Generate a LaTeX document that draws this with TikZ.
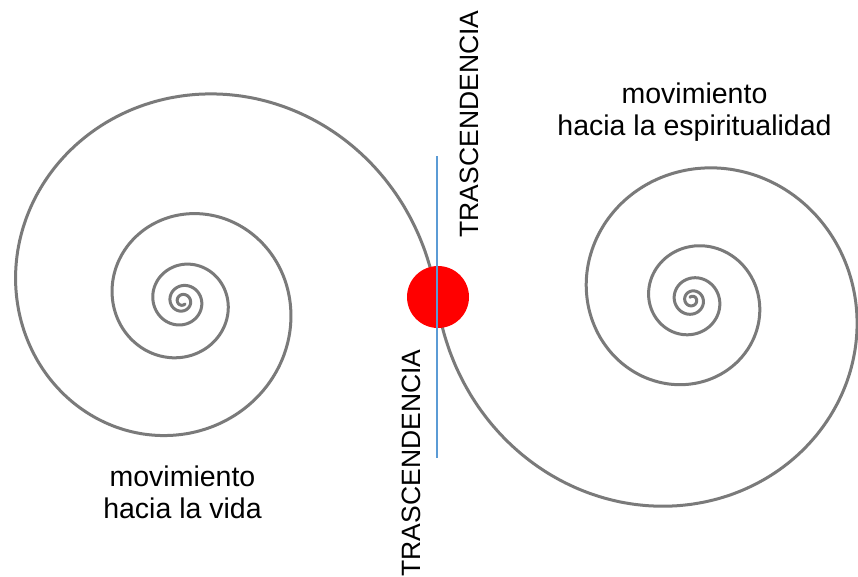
\documentclass[tikz,border=0pt]{standalone}
\usepackage{fontspec}
\setmainfont{Liberation Sans}
\definecolor{spiralgray}{HTML}{7A7A7A}
\definecolor{lineblue}{HTML}{5B9BD5}
\begin{document}
\begin{tikzpicture}[x=1pt,y=-1pt,
  spiralline/.style={draw=spiralgray,line width=3pt,line join=round,line cap=round},
  axisline/.style={draw=lineblue,line width=2.2pt},
  dotstyle/.style={circle,fill=red,minimum size=62pt,inner sep=0pt},
  caption/.style={font=\fontsize{28.5}{32}\selectfont,align=center,inner sep=0pt},
  vlabel/.style={font=\fontsize{26.5}{30}\selectfont,rotate=90,anchor=base,inner sep=0pt}]
\useasboundingbox[fill=white] (0,0) rectangle (858,576);
% spirals
\draw[spiralline] plot[smooth,samples=450,domain=0:1750,variable=\t]
  ({182.5+254.5*exp(-0.002397*\t)*cos(\t)},{301-254.5*exp(-0.002397*\t)*sin(\t)});
\draw[spiralline] plot[smooth,samples=450,domain=0:1750,variable=\t]
  ({692-255*exp(-0.002479*\t)*cos(\t)},{300+255*exp(-0.002479*\t)*sin(\t)});
% dot and line
\node[dotstyle] (dot) at (438,297) {};
\coordinate (ltop) at (437,156);
\coordinate (lbot) at (437,458);
\draw[axisline] (ltop) -- (lbot);
% labels
\node[vlabel] (tup) at (478.5,124) {TRASCENDENCIA};
\node[vlabel] (tdown) at (420,463) {TRASCENDENCIA};
\node[caption,anchor=north] (capl) at (182.5,465.5) {movimiento\\hacia la vida};
\node[caption,anchor=north] (capr) at (694.5,83) {movimiento\\hacia la espiritualidad};
\end{tikzpicture}
\end{document}
